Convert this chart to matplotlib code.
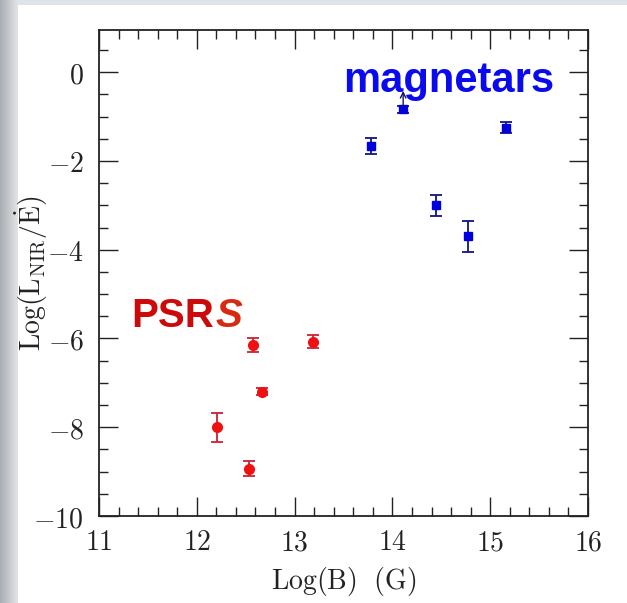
import numpy as np
import matplotlib
matplotlib.use("Agg")
import matplotlib.pyplot as plt
from matplotlib.ticker import MultipleLocator, FuncFormatter

plt.rcParams['mathtext.fontset'] = 'cm'

# Pulsars (PSRs)
psr_logB = [12.21, 12.53, 12.57, 12.67, 13.19]
psr_ratio = [-8.0, -8.93, -6.15, -7.2, -6.07]
psr_err = [0.33, 0.17, 0.15, 0.08, 0.14]

# Magnetars
mag_logB = [13.78, 14.11, 14.45, 14.77, 15.16]
mag_ratio = [-1.67, -0.84, -3.0, -3.7, -1.25]
mag_err = [0.18, 0.07, 0.23, 0.35, 0.13]
# lower-limit arrow on the magnetar at index 1
mag_limit_idx = 1
mag_limit_top = -0.36

fig = plt.figure(figsize=(6.27, 6.03), dpi=100)

# slide-like background
bg = fig.add_axes([0, 0, 1, 1], zorder=-5)
bg.set_axis_off()
w, h = 627, 603
img = np.ones((h, w, 3))
xs = np.arange(w)
left = np.clip(xs / 18.0, 0, 1)
col_left = np.array([0.66, 0.69, 0.71])
for c in range(3):
    img[:, :, c] = col_left[c] + (0.90 - col_left[c]) * left[None, :]
img[5:, 18:, :] = 1.0
img[:5, 18:, :] = np.array([0.87, 0.90, 0.92])
bg.imshow(img, aspect='auto', extent=[0, 1, 0, 1])
bg.set_xlim(0, 1)
bg.set_ylim(0, 1)

ax = fig.add_axes([99/627, 1 - 516/603, (588 - 99)/627, (516 - 30)/603])
ax.set_xlim(11, 16)
ax.set_ylim(-10, 0.95)

ax.errorbar(psr_logB, psr_ratio, yerr=psr_err, fmt='o', color='#ee1111',
            ecolor='#cc2233', markersize=7, capsize=4.5, elinewidth=1.3,
            capthick=1.3, zorder=3)
ax.errorbar(mag_logB, mag_ratio, yerr=mag_err, fmt='s', color='#0000dd',
            ecolor='#141480', markersize=6, capsize=4.5, elinewidth=1.3,
            capthick=1.3, zorder=3)
ax.annotate('', xy=(mag_logB[mag_limit_idx], mag_limit_top),
            xytext=(mag_logB[mag_limit_idx], mag_ratio[mag_limit_idx]),
            arrowprops=dict(arrowstyle='->', color='#141460', lw=1.0,
                            mutation_scale=10), zorder=4)

ax.text(14.58, -0.2, 'magnetars', color='#0a0aee', fontsize=30,
        fontweight='bold', family='Liberation Sans', ha='center', va='center')
psr = ax.text(11.33, -5.5, 'PSR', color='#cc0a0a', fontsize=29,
              fontweight='bold', family='Liberation Sans', ha='left', va='center')
ax.annotate('S', xy=(1, 0.5), xycoords=psr, xytext=(1, 0),
            textcoords='offset points', color='#d82a10', fontsize=29,
            fontstyle='italic', fontweight='bold', family='Liberation Sans',
            ha='left', va='center')

ax.xaxis.set_major_locator(MultipleLocator(1))
ax.xaxis.set_minor_locator(MultipleLocator(0.2))
ax.yaxis.set_major_locator(MultipleLocator(2))
ax.yaxis.set_minor_locator(MultipleLocator(0.5))
ax.tick_params(which='both', direction='in', top=True, right=True,
               width=1.0, colors='#222222', labelsize=20, labelcolor='#222222')
ax.tick_params(which='major', length=13.5)
ax.tick_params(axis='x', which='major', pad=9)
ax.tick_params(axis='y', which='major', pad=11)
ax.tick_params(which='minor', length=6.5)
fmt = FuncFormatter(lambda v, p: r'$%d$' % round(v))
ax.xaxis.set_major_formatter(fmt)
ax.yaxis.set_major_formatter(fmt)
for s in ax.spines.values():
    s.set_linewidth(1.3)
    s.set_color('#222222')

ax.set_xlabel(r'$\mathrm{Log(B)\ \ (G)}$', fontsize=20, color='#222222', labelpad=6)
ax.set_ylabel(r'$\mathrm{Log(L_{NIR}/\dot{E})}$', fontsize=20, color='#222222')
ax.yaxis.set_label_coords(-0.1, 0.5)

fig.savefig('out.png', dpi=100)
